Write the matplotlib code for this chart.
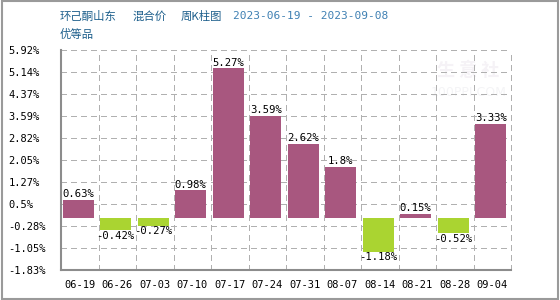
import matplotlib
matplotlib.use("Agg")
import matplotlib.pyplot as plt
from matplotlib.patches import Rectangle

categories = ["06-19", "06-26", "07-03", "07-10", "07-17", "07-24",
              "07-31", "08-07", "08-14", "08-21", "08-28", "09-04"]
values = [0.63, -0.42, -0.27, 0.98, 5.27, 3.59, 2.62, 1.8, -1.18, 0.15, -0.52, 3.33]
y_ticks = [5.92, 5.145, 4.37, 3.595, 2.82, 2.045, 1.27, 0.495, -0.28, -1.055, -1.83]
y_tick_labels = ["5.92%", "5.14%", "4.37%", "3.59%", "2.82%", "2.05%",
                 "1.27%", "0.5%", "-0.28%", "-1.05%", "-1.83%"]
title_parts = ["环己酮山东", "混合价", "周K柱图"]
title_dates = "2023-06-19 - 2023-09-08"
subtitle = "优等品"

pos_color = "#a8577f"
neg_color = "#aad431"
grid_color = "#b0b0b0"
mono = "DejaVu Sans Mono"
cjk = ["Noto Sans CJK SC", "DejaVu Sans"]

fig = plt.figure(figsize=(5.6, 3.0), dpi=100)
fig.patch.set_facecolor("white")
ax = fig.add_axes([61/560, 30/300, 450/560, 220/300])

x = list(range(len(categories)))
colors = [pos_color if v >= 0 else neg_color for v in values]
bars = ax.bar([i - 0.04 for i in x], values, width=0.83, color=colors, zorder=3)

ax.set_xlim(-0.5, len(categories) - 0.5)
ax.set_ylim(min(y_ticks), max(y_ticks))

# grid lines (dashed, crisp)
ax.hlines(y_ticks, -0.5, len(categories) - 0.5, colors=grid_color,
          linestyles=(0, (4, 3)), linewidth=1.0, zorder=2.5, clip_on=False,
          antialiased=False)
ax.vlines([k - 0.5 for k in range(1, len(categories) + 1)], min(y_ticks), max(y_ticks),
          colors=grid_color, linestyles=(0, (4, 3)), linewidth=1.0, zorder=2.5, clip_on=False,
          antialiased=False)

for s in ["top", "right"]:
    ax.spines[s].set_visible(False)
for s in ["left", "bottom"]:
    ax.spines[s].set_color("#8c8c8c")
    ax.spines[s].set_linewidth(1.5)
    ax.spines[s].set_zorder(4)

ax.set_yticks(y_ticks)
ax.set_yticklabels(y_tick_labels, fontsize=7.5, family=mono)
for lab in ax.get_yticklabels():
    lab.set_horizontalalignment("left")
ax.tick_params(axis="y", length=0, pad=38)
ax.set_xticks(x)
ax.set_xticklabels(categories, fontsize=7.5, family=mono)
ax.tick_params(axis="x", which="both", length=0, pad=7)

# value labels
for b, v in zip(bars, values):
    cx = b.get_x() + b.get_width() / 2
    if v >= 0:
        ax.annotate(f"{v:g}%", (cx, v), xytext=(0, 0.5), textcoords="offset points",
                    ha="center", va="bottom", fontsize=7.6, family=mono, zorder=5)
    else:
        ax.annotate(f"{v:g}%", (cx, v), xytext=(0, -0.5), textcoords="offset points",
                    ha="center", va="top", fontsize=7.6, family=mono, zorder=5)

# faint watermark
ax.text(0.905, 0.905, "生 意 社", transform=ax.transAxes, ha="center", va="center",
        fontsize=13, family=cjk, color="#f5f2f6", zorder=1, fontweight="bold")
ax.text(0.905, 0.805, "100PPI.COM", transform=ax.transAxes, ha="center", va="center",
        fontsize=9, family="DejaVu Sans", color="#f4f4f6", zorder=1)

# titles
title_color = "#1d5f8c"
for part, px in zip(title_parts, [60, 133, 181]):
    fig.text(px/560, 1 - 16/300, part, fontsize=8.2, family=cjk, color=title_color,
             ha="left", va="center")
fig.text(233/560, 1 - 16/300, title_dates, fontsize=8, family=mono, color="#3f80b3",
         ha="left", va="center")
fig.text(60/560, 1 - 34/300, subtitle, fontsize=8.2, family=cjk, color=title_color,
         ha="left", va="center")

# outer frame
fig.add_artist(Rectangle((0.003, 0.003), 0.994, 0.994, transform=fig.transFigure,
                         fill=False, edgecolor="#9a9a9a", linewidth=1.5))

fig.savefig("out.png", dpi=100, facecolor="white")
